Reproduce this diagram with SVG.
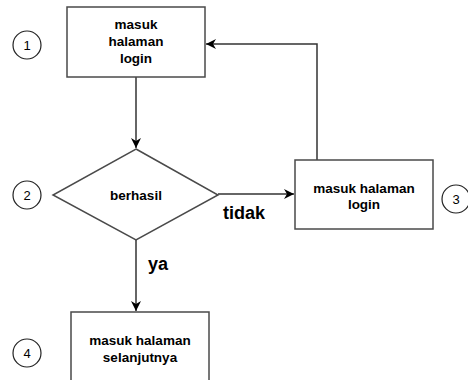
<svg xmlns="http://www.w3.org/2000/svg" width="468" height="380" viewBox="0 0 468 380">
<defs>
<marker id="arr" markerWidth="12" markerHeight="10" refX="10" refY="5" orient="auto" markerUnits="userSpaceOnUse">
<path d="M0,0 L10,5 L0,10 L3,5 Z" fill="#000"/>
</marker>
<style>
.box{fill:#fff;stroke:#4a4a4a;stroke-width:1.5}
.num{fill:#fff;stroke:#222;stroke-width:1.2}
.t{font-family:"Liberation Sans",Arial,sans-serif;font-weight:bold;font-size:13.5px;fill:#000;text-anchor:middle}
.n{font-family:"Liberation Sans",Arial,sans-serif;font-size:13px;fill:#000;text-anchor:middle}
.lbl{font-family:"Liberation Sans",Arial,sans-serif;font-weight:bold;font-size:18px;fill:#000}
.ln{fill:none;stroke:#333;stroke-width:1.5}
</style>
</defs>
<rect width="468" height="380" fill="#fff"/>
<g id="connectors">
<path class="ln" d="M136,77 L136,148" marker-end="url(#arr)"/>
<path class="ln" d="M218,194 L294,194" marker-end="url(#arr)"/>
<path class="ln" d="M317,160 L317,44 L206,44" marker-end="url(#arr)"/>
<path class="ln" d="M136,240 L136,311" marker-end="url(#arr)"/>
<text class="lbl" x="223" y="219">tidak</text>
<text class="lbl" x="148" y="270">ya</text>
</g>
<g id="node1">
<rect class="box" x="67" y="7" width="138" height="70"/>
<text class="t" x="136" y="29">masuk</text>
<text class="t" x="136" y="46">halaman</text>
<text class="t" x="136" y="63">login</text>
</g>
<g id="node2">
<polygon class="box" points="136,149 218,195 136,240 53,195"/>
<text class="t" x="136" y="200">berhasil</text>
</g>
<g id="node3">
<rect class="box" x="295" y="160" width="138" height="69"/>
<text class="t" x="364" y="193">masuk halaman</text>
<text class="t" x="364" y="209">login</text>
</g>
<g id="node4">
<rect class="box" x="71" y="312" width="138" height="80"/>
<text class="t" x="140" y="345">masuk halaman</text>
<text class="t" x="140" y="362">selanjutnya</text>
</g>
<g id="num1"><circle class="num" cx="27" cy="45" r="14"/><text class="n" x="27" y="49.5">1</text></g>
<g id="num2"><circle class="num" cx="27" cy="195" r="14"/><text class="n" x="27" y="199.5">2</text></g>
<g id="num3"><circle class="num" cx="456" cy="199" r="14"/><text class="n" x="456" y="203.5">3</text></g>
<g id="num4"><circle class="num" cx="27" cy="353" r="14"/><text class="n" x="27" y="357.5">4</text></g>
</svg>
